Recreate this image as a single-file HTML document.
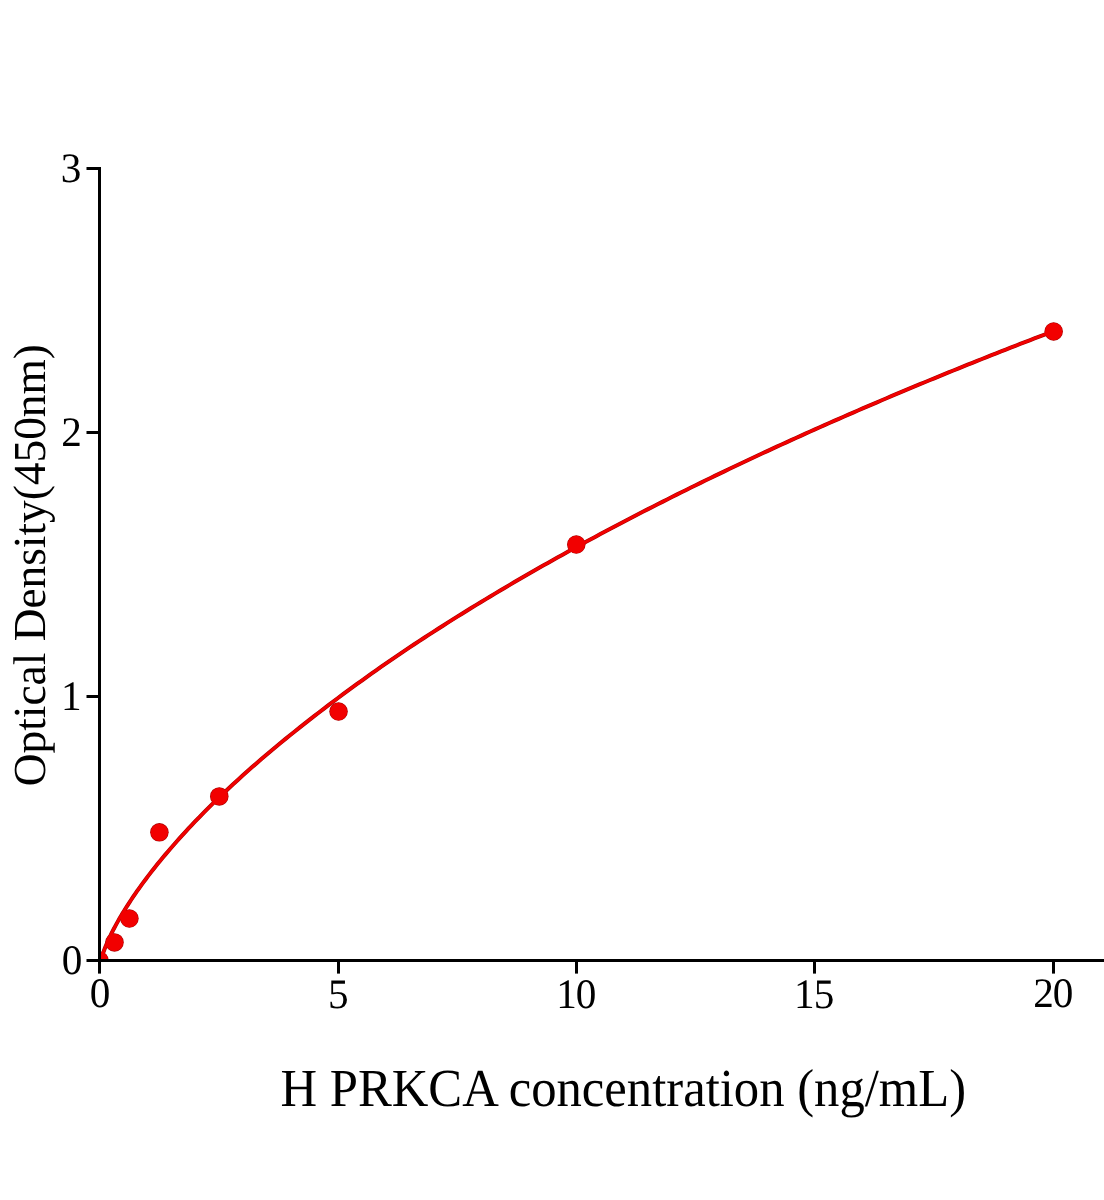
<!DOCTYPE html>
<html lang="en">
<head>
<meta charset="utf-8">
<title>H PRKCA standard curve</title>
<style>
html,body{margin:0;padding:0;background:#fff;}
body{width:1104px;height:1200px;overflow:hidden;}
svg{display:block;}
text{font-family:"Liberation Serif",serif;fill:#000;text-rendering:geometricPrecision;}
.tk text{font-size:42px;}
</style>
</head>
<body>
<svg width="1104" height="1200" viewBox="0 0 1104 1200">
<rect width="1104" height="1200" fill="#fff"/>
<defs>
<clipPath id="plot"><rect x="99.5" y="0" width="1104" height="960.5"/></clipPath>
</defs>
<g clip-path="url(#plot)">
<g fill="#a80000">
<circle cx="99.5" cy="960.5" r="9.25"/>
<circle cx="114.5" cy="942.4" r="9.25"/>
<circle cx="129.4" cy="918.5" r="9.25"/>
<circle cx="159.4" cy="832.35" r="9.25"/>
<circle cx="219.3" cy="796.4" r="9.25"/>
<circle cx="338.55" cy="711.55" r="9.25"/>
<circle cx="576.3" cy="544.5" r="9.25"/>
<circle cx="1053.65" cy="331.45" r="9.25"/>
</g>
<polyline points="99.50,967.52 99.53,967.08 99.61,966.34 99.75,965.40 99.94,964.32 100.19,963.12 100.49,961.80 100.84,960.39 101.25,958.89 101.72,957.30 102.24,955.64 102.82,953.90 103.45,952.09 104.13,950.22 104.87,948.29 105.67,946.30 106.52,944.25 107.42,942.15 108.38,940.00 109.39,937.80 110.46,935.55 111.59,933.25 112.76,930.91 114.00,928.52 115.29,926.10 116.63,923.63 118.03,921.12 119.48,918.57 120.99,915.99 122.55,913.37 124.17,910.72 125.84,908.03 127.56,905.31 129.35,902.55 131.18,899.77 133.07,896.95 135.02,894.10 137.02,891.22 139.07,888.32 141.18,885.39 143.35,882.42 145.57,879.44 147.84,876.42 150.17,873.38 152.56,870.32 155.00,867.23 157.49,864.12 160.04,860.99 162.64,857.83 165.30,854.65 168.01,851.45 170.78,848.22 173.61,844.98 176.48,841.72 179.42,838.44 182.40,835.13 185.44,831.81 188.54,828.47 191.69,825.12 194.90,821.74 199.67,816.79 204.44,811.93 209.21,807.15 213.98,802.44 218.75,797.80 223.52,793.23 228.29,788.73 233.06,784.29 237.83,779.91 242.60,775.58 247.37,771.32 252.14,767.10 256.91,762.94 261.68,758.83 266.45,754.76 271.22,750.74 275.99,746.76 280.76,742.82 285.53,738.92 290.30,735.05 295.07,731.22 299.84,727.42 304.61,723.65 309.38,719.90 314.15,716.19 318.92,712.50 323.69,708.84 328.46,705.21 333.23,701.60 338.00,698.02 342.77,694.46 347.54,690.93 352.31,687.43 357.08,683.96 361.85,680.51 366.62,677.09 371.39,673.69 376.16,670.32 380.93,666.98 385.70,663.66 390.47,660.37 395.24,657.11 400.01,653.87 404.78,650.65 409.55,647.46 414.32,644.29 419.09,641.14 423.86,638.01 428.63,634.90 433.40,631.82 438.17,628.75 442.94,625.70 447.71,622.68 452.48,619.67 457.25,616.67 462.02,613.70 466.79,610.74 471.56,607.80 476.33,604.88 481.10,601.98 485.87,599.09 490.64,596.21 495.41,593.36 500.18,590.51 504.95,587.69 509.72,584.88 514.49,582.08 519.26,579.30 524.03,576.53 528.80,573.78 533.57,571.04 538.34,568.32 543.11,565.61 547.88,562.91 552.65,560.22 557.42,557.55 562.19,554.90 566.96,552.25 571.73,549.62 576.50,547.00 581.27,544.39 586.04,541.80 590.81,539.22 595.58,536.65 600.35,534.09 605.12,531.54 609.89,529.01 614.66,526.48 619.43,523.97 624.20,521.47 628.97,518.98 633.74,516.50 638.51,514.03 643.28,511.57 648.05,509.13 652.82,506.69 657.59,504.26 662.36,501.85 667.13,499.44 671.90,497.04 676.67,494.66 681.44,492.28 686.21,489.92 690.98,487.56 695.75,485.21 700.52,482.88 705.29,480.55 710.06,478.23 714.83,475.92 719.60,473.62 724.37,471.33 729.14,469.04 733.91,466.77 738.68,464.50 743.45,462.25 748.22,460.00 752.99,457.76 757.76,455.53 762.53,453.31 767.30,451.09 772.07,448.89 776.84,446.69 781.61,444.50 786.38,442.32 791.15,440.14 795.92,437.98 800.69,435.82 805.46,433.67 810.23,431.52 815.00,429.39 819.77,427.26 824.54,425.14 829.31,423.03 834.08,420.92 838.85,418.82 843.62,416.73 848.39,414.65 853.16,412.57 857.93,410.50 862.70,408.44 867.47,406.39 872.24,404.34 877.01,402.29 881.78,400.26 886.55,398.23 891.32,396.21 896.09,394.19 900.86,392.19 905.63,390.18 910.40,388.19 915.17,386.20 919.94,384.22 924.71,382.24 929.48,380.27 934.25,378.31 939.02,376.35 943.79,374.40 948.56,372.45 953.33,370.51 958.10,368.58 962.87,366.65 967.64,364.73 972.41,362.82 977.18,360.91 981.95,359.00 986.72,357.11 991.49,355.21 996.26,353.33 1001.03,351.45 1005.80,349.57 1010.57,347.70 1015.34,345.84 1020.11,343.98 1024.88,342.13 1029.65,340.28 1034.42,338.44 1039.19,336.60 1043.96,334.77 1048.73,332.94 1053.50,331.12" fill="none" stroke="#a80000" stroke-width="4.0" stroke-linejoin="round"/>
<g fill="#f20000">
<circle cx="99.5" cy="960.5" r="8.70"/>
<circle cx="114.5" cy="942.4" r="8.70"/>
<circle cx="129.4" cy="918.5" r="8.70"/>
<circle cx="159.4" cy="832.35" r="8.70"/>
<circle cx="219.3" cy="796.4" r="8.70"/>
<circle cx="338.55" cy="711.55" r="8.70"/>
<circle cx="576.3" cy="544.5" r="8.70"/>
<circle cx="1053.65" cy="331.45" r="8.70"/>
</g>
<polyline points="99.50,967.52 99.53,967.08 99.61,966.34 99.75,965.40 99.94,964.32 100.19,963.12 100.49,961.80 100.84,960.39 101.25,958.89 101.72,957.30 102.24,955.64 102.82,953.90 103.45,952.09 104.13,950.22 104.87,948.29 105.67,946.30 106.52,944.25 107.42,942.15 108.38,940.00 109.39,937.80 110.46,935.55 111.59,933.25 112.76,930.91 114.00,928.52 115.29,926.10 116.63,923.63 118.03,921.12 119.48,918.57 120.99,915.99 122.55,913.37 124.17,910.72 125.84,908.03 127.56,905.31 129.35,902.55 131.18,899.77 133.07,896.95 135.02,894.10 137.02,891.22 139.07,888.32 141.18,885.39 143.35,882.42 145.57,879.44 147.84,876.42 150.17,873.38 152.56,870.32 155.00,867.23 157.49,864.12 160.04,860.99 162.64,857.83 165.30,854.65 168.01,851.45 170.78,848.22 173.61,844.98 176.48,841.72 179.42,838.44 182.40,835.13 185.44,831.81 188.54,828.47 191.69,825.12 194.90,821.74 199.67,816.79 204.44,811.93 209.21,807.15 213.98,802.44 218.75,797.80 223.52,793.23 228.29,788.73 233.06,784.29 237.83,779.91 242.60,775.58 247.37,771.32 252.14,767.10 256.91,762.94 261.68,758.83 266.45,754.76 271.22,750.74 275.99,746.76 280.76,742.82 285.53,738.92 290.30,735.05 295.07,731.22 299.84,727.42 304.61,723.65 309.38,719.90 314.15,716.19 318.92,712.50 323.69,708.84 328.46,705.21 333.23,701.60 338.00,698.02 342.77,694.46 347.54,690.93 352.31,687.43 357.08,683.96 361.85,680.51 366.62,677.09 371.39,673.69 376.16,670.32 380.93,666.98 385.70,663.66 390.47,660.37 395.24,657.11 400.01,653.87 404.78,650.65 409.55,647.46 414.32,644.29 419.09,641.14 423.86,638.01 428.63,634.90 433.40,631.82 438.17,628.75 442.94,625.70 447.71,622.68 452.48,619.67 457.25,616.67 462.02,613.70 466.79,610.74 471.56,607.80 476.33,604.88 481.10,601.98 485.87,599.09 490.64,596.21 495.41,593.36 500.18,590.51 504.95,587.69 509.72,584.88 514.49,582.08 519.26,579.30 524.03,576.53 528.80,573.78 533.57,571.04 538.34,568.32 543.11,565.61 547.88,562.91 552.65,560.22 557.42,557.55 562.19,554.90 566.96,552.25 571.73,549.62 576.50,547.00 581.27,544.39 586.04,541.80 590.81,539.22 595.58,536.65 600.35,534.09 605.12,531.54 609.89,529.01 614.66,526.48 619.43,523.97 624.20,521.47 628.97,518.98 633.74,516.50 638.51,514.03 643.28,511.57 648.05,509.13 652.82,506.69 657.59,504.26 662.36,501.85 667.13,499.44 671.90,497.04 676.67,494.66 681.44,492.28 686.21,489.92 690.98,487.56 695.75,485.21 700.52,482.88 705.29,480.55 710.06,478.23 714.83,475.92 719.60,473.62 724.37,471.33 729.14,469.04 733.91,466.77 738.68,464.50 743.45,462.25 748.22,460.00 752.99,457.76 757.76,455.53 762.53,453.31 767.30,451.09 772.07,448.89 776.84,446.69 781.61,444.50 786.38,442.32 791.15,440.14 795.92,437.98 800.69,435.82 805.46,433.67 810.23,431.52 815.00,429.39 819.77,427.26 824.54,425.14 829.31,423.03 834.08,420.92 838.85,418.82 843.62,416.73 848.39,414.65 853.16,412.57 857.93,410.50 862.70,408.44 867.47,406.39 872.24,404.34 877.01,402.29 881.78,400.26 886.55,398.23 891.32,396.21 896.09,394.19 900.86,392.19 905.63,390.18 910.40,388.19 915.17,386.20 919.94,384.22 924.71,382.24 929.48,380.27 934.25,378.31 939.02,376.35 943.79,374.40 948.56,372.45 953.33,370.51 958.10,368.58 962.87,366.65 967.64,364.73 972.41,362.82 977.18,360.91 981.95,359.00 986.72,357.11 991.49,355.21 996.26,353.33 1001.03,351.45 1005.80,349.57 1010.57,347.70 1015.34,345.84 1020.11,343.98 1024.88,342.13 1029.65,340.28 1034.42,338.44 1039.19,336.60 1043.96,334.77 1048.73,332.94 1053.50,331.12" fill="none" stroke="#f20000" stroke-width="2.90" stroke-linejoin="round"/>
</g>
<g fill="#000">
<rect x="98" y="167" width="3" height="806.60"/>
<rect x="86.5" y="959" width="1017.50" height="3"/>
<rect x="86.5" y="695" width="12.50" height="3"/>
<rect x="86.5" y="431" width="12.50" height="3"/>
<rect x="86.5" y="167" width="12.50" height="3"/>
<rect x="337" y="960" width="3" height="13.60"/>
<rect x="575" y="960" width="3" height="13.60"/>
<rect x="813" y="960" width="3" height="13.60"/>
<rect x="1052" y="960" width="3" height="13.60"/>
</g>
<g class="tk">
<text transform="translate(82.4 974.30) scale(0.98 1)" text-anchor="end">0</text>
<text transform="translate(81.5 710.30) scale(0.98 1)" text-anchor="end">1</text>
<text transform="translate(81.8 446.30) scale(0.98 1)" text-anchor="end">2</text>
<text transform="translate(81.3 182.30) scale(0.98 1)" text-anchor="end">3</text>
<text transform="translate(89.75 1007.2) scale(0.98 1)">0</text>
<text transform="translate(327.9 1008.2) scale(0.98 1)">5</text>
<text transform="translate(556.2 1008.2) scale(0.98 1)" letter-spacing="-0.95">10</text>
<text transform="translate(794.0 1008.2) scale(0.98 1)" letter-spacing="-0.95">15</text>
<text transform="translate(1033.2 1007.2) scale(0.98 1)" letter-spacing="-0.95">20</text>
</g>
<text transform="translate(623.3 1106) scale(0.9475 1)" text-anchor="middle" font-size="53.5">H PRKCA concentration (ng/mL)</text>
<text transform="translate(44.8 565.15) rotate(-90) scale(0.99 1)" text-anchor="middle" font-size="45.8">Optical Density(450nm)</text>
</svg>
</body>
</html>
